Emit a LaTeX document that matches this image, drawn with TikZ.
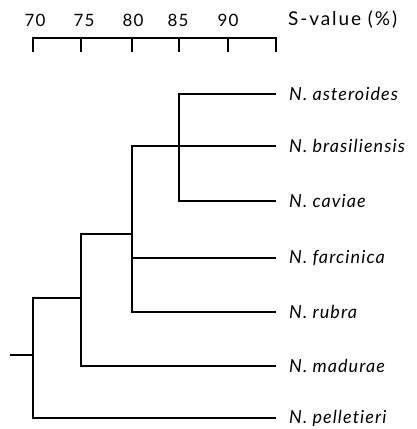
\documentclass[tikz,border=0pt]{standalone}
\usepackage{fontspec}
\setmainfont{Lato}[LetterSpace=6, Ligatures=NoCommon]
\usetikzlibrary{positioning}

\tikzset{
  taxon/.style={anchor=west, inner xsep=13pt, inner ysep=0pt, font=\fontsize{18}{20}\selectfont\itshape},
  branch/.style={line width=1.3pt}
}

\begin{document}
\begin{tikzpicture}[x=1pt, y=-1pt, font=\fontsize{17}{19}\selectfont]
    \useasboundingbox (0,0) rectangle (417,429);

    % scale bar
    \draw[branch] (33,52) -- (33,38) -- (276,38) -- (276,52);
    \foreach \v/\x in {70/35, 75/84, 80/133, 85/178, 90/228} {
        \node (s\v) at (\x,20) {\v};
    }
    \foreach \x in {81, 132, 179, 228}
        \draw[branch] (\x,38) -- (\x,52);
    \node[anchor=west, inner sep=0pt, font=\fontsize{19}{21}\selectfont\addfontfeature{LetterSpace=10}] (sval) at (288,20) {S-value (\%)};

    % species
    \node[taxon] (ast) at (276,94) {N. asteroides};
    \node[taxon] (bra) at (276,146) {N. brasiliensis};
    \node[taxon] (cav) at (276,201) {N. caviae};
    \node[taxon] (far) at (276,258) {N. farcinica};
    \node[taxon] (rub) at (276,312) {N. rubra};
    \node[taxon] (mad) at (276,366) {N. madurae};
    \node[taxon] (pel) at (276,418) {N. pelletieri};

    % joins
    \coordinate (k85) at (179,146);
    \coordinate (k80) at (132,234);
    \coordinate (k75) at (81,298);
    \coordinate (k70) at (33,355);
    \coordinate (root) at (10,355);

    \draw[branch] (ast.west) -| (k85) |- (cav.west);
    \draw[branch] (bra.west) -| (k80) |- (rub.west);
    \draw[branch] (k80) |- (far.west);
    \draw[branch] (k80) -| (k75) |- (mad.west);
    \draw[branch] (k75) -| (k70) |- (pel.west);
    \draw[branch] (root) -- (k70);
\end{tikzpicture}
\end{document}
